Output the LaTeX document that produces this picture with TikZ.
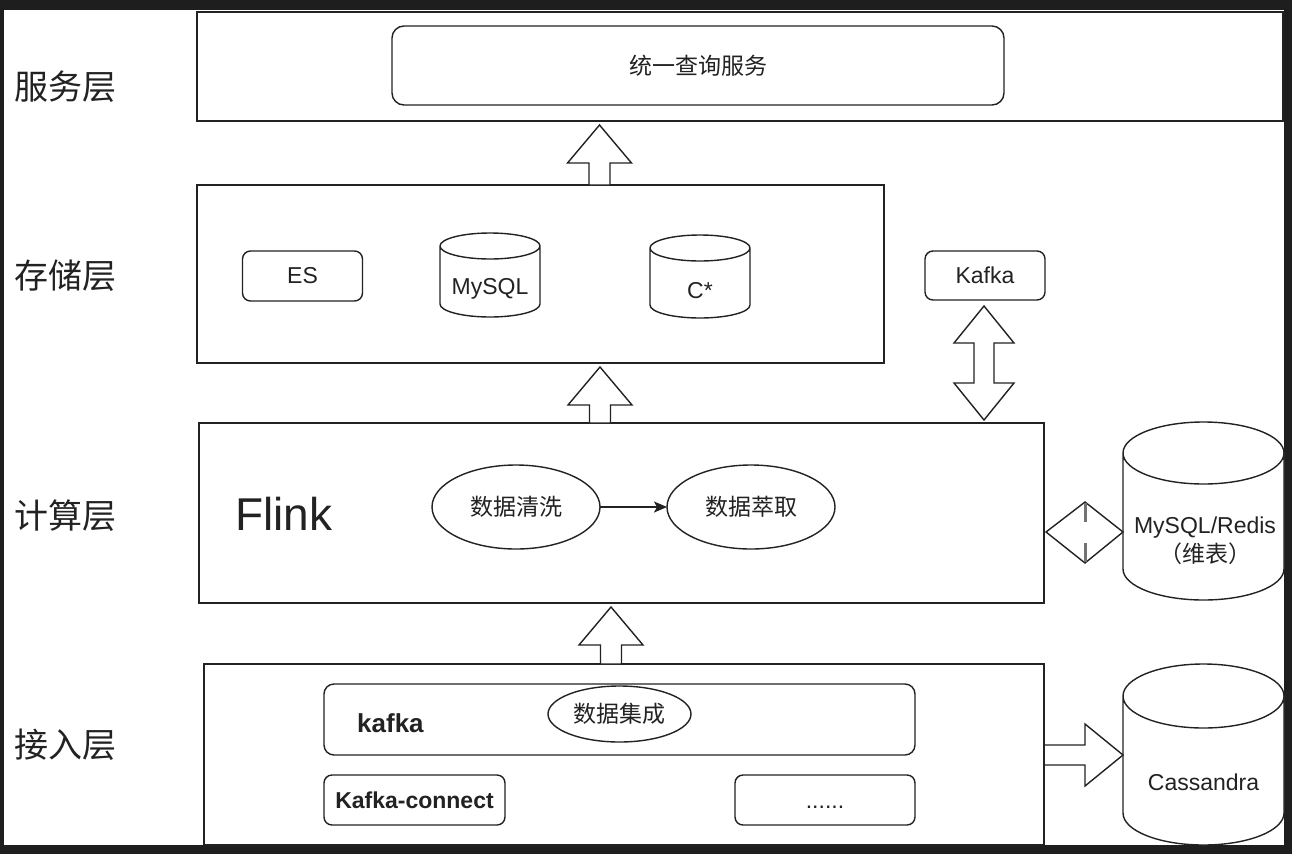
\documentclass[tikz,border=0pt]{standalone}
\usepackage{fontspec}
\setmainfont{Liberation Sans}
\newfontfamily\cjk{Noto Sans CJK SC}
\usetikzlibrary{shapes.geometric,arrows.meta,calc}
\definecolor{frame}{HTML}{1E1E1E}
\definecolor{ink}{HTML}{222222}
\tikzset{
 box/.style={draw=ink, line width=1.4pt, inner sep=0pt, outer sep=0pt, fill=white},
 rbox/.style={box, rounded corners=#1},
 rbox/.default=8pt,
 ell/.style={ellipse, draw=ink, line width=1.4pt, inner sep=0pt, outer sep=0pt, fill=white},
 holder/.style={inner sep=0pt, outer sep=0pt},
 lay/.style={font=\cjk\fontsize{34}{40}\selectfont, text=ink, inner sep=0pt},
 cn/.style={font=\cjk\fontsize{23}{28}\selectfont, text=ink},
 en/.style={font=\fontsize{23}{28}\selectfont, text=ink},
 enb/.style={font=\bfseries\fontsize{23}{27}\selectfont, text=ink},
 blk/.style={draw=ink, line width=1.4pt, fill=white, line join=miter},
 cylline/.style={draw=ink, line width=1.4pt, fill=white},
 flow/.style={draw=ink, line width=1.6pt, -{Stealth[length=13pt,width=11pt,inset=3pt]}},
}
% cylinder outline around a named holder node; #2 = half height of the cap
\newcommand{\cylshape}[2]{%
 \path[cylline] let \p1=(#1.north west), \p2=(#1.south east), \n1={(\x2-\x1)/2} in
  (\x1,\y1-#2pt) -- (\x1,\y2+#2pt)
  arc[start angle=180,end angle=360,x radius=\n1,y radius=#2pt]
  -- (\x2,\y1-#2pt)
  arc[start angle=0,end angle=180,x radius=\n1,y radius=#2pt]
  arc[start angle=180,end angle=360,x radius=\n1,y radius=#2pt];}
% upward block arrow at x=#1 from node #2 (below) to node #3 (above)
\newcommand{\upblock}[3]{%
 \path[blk] let \p1=(#2.north), \p2=(#3.south) in
  (#1pt-10.5pt,\y1) -- (#1pt-10.5pt,\y2-42pt) -- (#1pt-32pt,\y2-42pt) -- (#1pt,\y2-4pt)
  -- (#1pt+32pt,\y2-42pt) -- (#1pt+10.5pt,\y2-42pt) -- (#1pt+10.5pt,\y1) -- cycle;}
\begin{document}
\begin{tikzpicture}[x=1pt,y=1pt]
\fill[frame] (0,0) rectangle (1292,-854);
\fill[white] (4,-10) rectangle (1284,-845);
\useasboundingbox (0,0) rectangle (1292,-854);

% layer labels
\node[lay] (l1) at (65,-87) {服务层};
\node[lay] (l2) at (65,-276) {存储层};
\node[lay] (l3) at (65,-516) {计算层};
\node[lay] (l4) at (65,-745) {接入层};

% service layer
\node[box, minimum width=1086pt, minimum height=109pt] (service) at (740,-66.5) {};
\node[rbox=12pt, cn, minimum width=612pt, minimum height=79pt] (query) at (698,-65.5) {统一查询服务};

% storage layer
\node[box, minimum width=687pt, minimum height=178pt] (storage) at (540.5,-274) {};
\node[rbox, en, minimum width=120pt, minimum height=50pt] (es) at (302.5,-276) {ES};
\node[holder, minimum width=100pt, minimum height=84pt] (mysql) at (490,-275) {};
\cylshape{mysql}{13}
\node[en] (mysqlt) at (490,-289) {MySQL};
\node[holder, minimum width=100pt, minimum height=83pt] (cstar) at (700,-276.5) {};
\cylshape{cstar}{13}
\node[en] (cstart) at (700,-291) {C*};
\node[rbox, en, minimum width=120pt, minimum height=49pt] (kafka1) at (985,-275.5) {Kafka};

% compute layer
\node[box, minimum width=845pt, minimum height=180pt] (compute) at (621.5,-513) {};
\node[font=\fontsize{46}{52}\selectfont, text=ink, inner sep=0pt] (flink) at (284,-514) {Flink};
\node[ell, cn, minimum width=168pt, minimum height=84pt] (clean) at (516,-507) {数据清洗};
\node[ell, cn, minimum width=168pt, minimum height=84pt] (extract) at (751,-507) {数据萃取};
\draw[flow] (clean) -- (extract);

\node[holder, minimum width=161pt, minimum height=178pt] (redis) at (1203.5,-511) {};
\cylshape{redis}{31}
\node[en, align=center, inner sep=0pt] (redist) at (1205,-541)
 {MySQL/Redis\\[1pt]{\cjk （维表）}};

% access layer
\node[box, minimum width=840pt, minimum height=181pt] (access) at (624,-754.5) {};
\node[rbox=10pt, minimum width=591pt, minimum height=71pt] (kafka2) at (619.5,-719.5) {};
\node[font=\bfseries\fontsize{26}{30}\selectfont, text=ink, anchor=west, inner sep=0pt] (kafkat) at (357,-723) {kafka};
\node[ell, cn, minimum width=143pt, minimum height=56pt] (integ) at (619.5,-714) {数据集成};
\node[rbox, enb, minimum width=181pt, minimum height=50pt] (kconnect) at (414.5,-800) {Kafka-connect};
\node[rbox, minimum width=180pt, minimum height=50pt] (dots) at (825,-800) {};
\node[en, anchor=base] (dotst) at (825,-808) {......};

\node[holder, minimum width=161pt, minimum height=181pt] (cass) at (1203.5,-754.5) {};
\cylshape{cass}{32}
\node[en] (casst) at (1203.5,-782) {Cassandra};

% block arrows between layers
\upblock{599.5}{storage}{service}
\upblock{600}{compute}{storage}
\upblock{611}{access}{compute}

% double arrow between Kafka and compute
\path[blk] let \p1=(kafka1.south), \p2=(compute.north) in
 (984pt,\y1-6pt) -- (1014pt,\y1-43pt) -- (994pt,\y1-43pt) -- (994pt,\y2+40pt)
 -- (1014pt,\y2+40pt) -- (984pt,\y2+3pt) -- (954pt,\y2+40pt) -- (974pt,\y2+40pt)
 -- (974pt,\y1-43pt) -- (954pt,\y1-43pt) -- cycle;

% double arrow between compute and redis (no shaft)
\path[blk] let \p1=(compute.east), \p2=(redis.west) in
 (\x1+2pt,-532pt) -- (1085pt,-502pt) -- (\x2,-532pt) -- (1085pt,-563pt) -- cycle;
\draw[black!55, line width=3pt] (1085,-503) -- (1085,-522) (1085,-543) -- (1085,-562);

% arrow from access to cassandra
\path[blk] let \p1=(access.east), \p2=(cass.west) in
 (\x1+1pt,-745pt) -- (\x2-38pt,-745pt) -- (\x2-38pt,-724pt) -- (\x2,-755pt)
 -- (\x2-38pt,-786pt) -- (\x2-38pt,-765pt) -- (\x1+1pt,-765pt);
\end{tikzpicture}
\end{document}
